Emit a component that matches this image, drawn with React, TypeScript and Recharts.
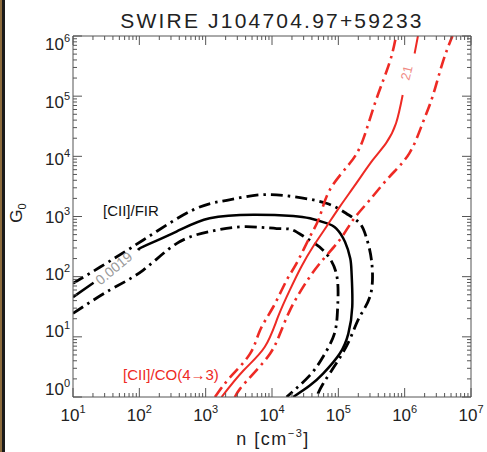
import { LineChart, Line, XAxis, YAxis } from 'recharts';

// all values are log10: [log n, log G0]
const decadesN = [1, 2, 3, 4, 5, 6, 7];
const decadesG = [0, 1, 2, 3, 4, 5, 6];
const minorSteps = [2, 3, 4, 5, 6, 7, 8, 9];

// null = gap left in the contour for its label
const firSolid = [
    [1.0, 1.66], [1.31, 1.9], null, [2.01, 2.46], [2.06, 2.5], [2.56, 2.75], [3.06, 2.97], [3.72, 3.03],
    [4.32, 3.01], [4.57, 2.97], [4.82, 2.89], [4.97, 2.8], [5.1, 2.58], [5.18, 2.3],
    [5.2, 2.05], [5.21, 1.5], [5.15, 1.05], [5.02, 0.72], [4.77, 0.39], [4.57, 0.19], [4.32, 0],
];
const firUpper = [
    [1.0, 1.89], [1.41, 2.16], [2.06, 2.61], [2.81, 3.11], [3.32, 3.27], [3.82, 3.36],
    [4.32, 3.33], [4.82, 3.22], [5.12, 3.05], [5.32, 2.89], [5.42, 2.66], [5.5, 2.27],
    [5.49, 1.72], [5.32, 1.33], [5.17, 0.95], [4.97, 0.56], [4.77, 0.22], [4.67, 0],
];
const firLower = [
    [1.0, 1.39], [1.56, 1.78], [2.06, 2.11], [2.56, 2.55], [3.06, 2.75], [3.57, 2.83],
    [4.07, 2.8], [4.3, 2.78], [4.52, 2.64], [4.77, 2.44], [4.97, 2.05], [4.99, 1.5],
    [4.94, 1.05], [4.77, 0.67], [4.57, 0.36], [4.22, 0],
];
const coSolid = [
    [3.24, 0], [3.57, 0.44], [3.89, 0.83], [4.09, 1.33], [4.27, 1.78], [4.44, 2.16],
    [4.62, 2.5], [4.82, 2.83], [5.02, 3.16], [5.27, 3.55], [5.52, 3.94], [5.72, 4.22],
    [5.87, 4.55], [5.97, 5.02], null, [6.15, 5.71], [6.2, 6.0],
];
const coUpper = [
    [3.14, 0], [3.37, 0.33], [3.67, 0.72], [3.82, 1.11], [4.02, 1.5], [4.22, 1.94],
    [4.37, 2.22], [4.57, 2.66], [4.72, 3.0], [4.87, 3.44], [5.17, 3.88], [5.37, 4.27],
    [5.57, 4.94], [5.77, 5.55], [5.87, 6.0],
];
const coLower = [
    [3.44, 0], [3.52, 0.14], [3.72, 0.39], [3.97, 0.72], [4.12, 1.05], [4.27, 1.44],
    [4.47, 1.83], [4.72, 2.22], [5.02, 2.61], [5.22, 2.94], [5.47, 3.27], [5.77, 3.66],
    [6.07, 4.05], [6.27, 4.55], [6.42, 4.99], [6.57, 5.55], [6.72, 6.0],
];

const toRows = (pts: (number[] | null)[]) =>
    pts.map((p, i) => (p ? { n: p[0], g: p[1] } : { n: (pts[i - 1] as number[])[0], g: null }));

const withMinors = (decades: number[]) => {
    const out: number[] = [];
    decades.forEach((d, i) => {
        out.push(d);
        if (i < decades.length - 1) minorSteps.forEach(m => out.push(d + Math.log10(m)));
    });
    return out;
};
const xTicks = withMinors(decadesN);
const yTicks = withMinors(decadesG);

const FONT = "'Liberation Sans', Arial, Helvetica, sans-serif";
const AXIS = '#555';
const RED = '#ee2a24';
const DASHDOT = '12 5 2.5 5';

const isMajor = (v: number) => Math.abs(v - Math.round(v)) < 1e-6;

const BottomTick = ({ x, y, payload }: any) => {
    const major = isMajor(payload.value);
    return (
        <g>
            <line x1={x} y1={y} x2={x} y2={y - (major ? 9 : 4)} stroke={AXIS} />
            {major && (
                <text x={x} y={y + 24} textAnchor="middle" fontSize={17} fill="#222" fontFamily={FONT}>
                    10<tspan dy={-8} fontSize={11}>{Math.round(payload.value)}</tspan>
                </text>
            )}
        </g>
    );
};

const TopTick = ({ x, y, payload }: any) => {
    const major = isMajor(payload.value);
    return <line x1={x} y1={y} x2={x} y2={y + (major ? 9 : 4)} stroke={AXIS} />;
};

const LeftTick = ({ x, y, payload }: any) => {
    const major = isMajor(payload.value);
    const k = Math.round(payload.value);
    const cy = y + (k - 3) * 2.7;
    return (
        <g>
            <line x1={x} y1={y} x2={x + (major ? 9 : 4)} y2={y} stroke={AXIS} />
            {major && (
                <text x={x - 3} y={cy + 6} textAnchor="end" fontSize={17} fill="#222" fontFamily={FONT}>
                    10<tspan dy={-8} fontSize={11}>{k}</tspan>
                </text>
            )}
        </g>
    );
};

const RightTick = ({ x, y, payload }: any) => {
    const major = isMajor(payload.value);
    return <line x1={x} y1={y} x2={x - (major ? 9 : 4)} y2={y} stroke={AXIS} />;
};

export default function App() {
    const series = [
        { key: 'firSolid', data: toRows(firSolid), color: '#000', width: 2.5, dash: undefined },
        { key: 'firUpper', data: toRows(firUpper), color: '#000', width: 2.8, dash: DASHDOT },
        { key: 'firLower', data: toRows(firLower), color: '#000', width: 2.8, dash: DASHDOT },
        { key: 'coSolid', data: toRows(coSolid), color: RED, width: 2, dash: undefined },
        { key: 'coUpper', data: toRows(coUpper), color: RED, width: 2.6, dash: DASHDOT },
        { key: 'coLower', data: toRows(coLower), color: RED, width: 2.6, dash: DASHDOT },
    ];

    return (
        <div style={{ position: 'relative', width: 487, height: 452, background: '#fff', overflow: 'hidden' }}>
            <style>{`body { margin: 0; }`}</style>
            <LineChart width={487} height={452} margin={{ top: 26, right: 6, bottom: 5, left: 13 }}>
                <XAxis
                    dataKey="n"
                    type="number"
                    domain={[1, 7]}
                    allowDataOverflow
                    ticks={xTicks}
                    interval={0}
                    height={50}
                    tickSize={0}
                    tickMargin={0}
                    tickLine={false}
                    axisLine={{ stroke: AXIS }}
                    tick={<BottomTick />}
                />
                <XAxis
                    xAxisId="top"
                    orientation="top"
                    dataKey="n"
                    type="number"
                    domain={[1, 7]}
                    allowDataOverflow
                    ticks={xTicks}
                    interval={0}
                    height={10}
                    tickSize={0}
                    tickMargin={0}
                    tickLine={false}
                    axisLine={{ stroke: AXIS }}
                    tick={<TopTick />}
                />
                <YAxis
                    type="number"
                    domain={[0, 6]}
                    allowDataOverflow
                    ticks={yTicks}
                    interval={0}
                    width={60}
                    tickSize={0}
                    tickMargin={0}
                    tickLine={false}
                    axisLine={{ stroke: AXIS }}
                    tick={<LeftTick />}
                />
                <YAxis
                    yAxisId="right"
                    orientation="right"
                    type="number"
                    domain={[0, 6]}
                    allowDataOverflow
                    ticks={yTicks}
                    interval={0}
                    width={10}
                    tickSize={0}
                    tickMargin={0}
                    tickLine={false}
                    axisLine={{ stroke: AXIS }}
                    tick={<RightTick />}
                />
                {series.map(s => (
                    <Line
                        key={s.key}
                        data={s.data}
                        dataKey="g"
                        type="natural"
                        stroke={s.color}
                        strokeWidth={s.width}
                        strokeDasharray={s.dash}
                        dot={false}
                        activeDot={false}
                        isAnimationActive={false}
                    />
                ))}
            </LineChart>

            <svg width={487} height={452} style={{ position: 'absolute', left: 0, top: 0, pointerEvents: 'none' }}>
                <rect x={0} y={0} width={2} height={452} fill="#8c6b3c" />
                <rect x={2} y={0} width={3} height={452} fill="#1a1a1a" />
                <text x={272} y={28} textAnchor="middle" fontSize={21} letterSpacing={2.2} fill="#222" fontFamily={FONT}>
                    SWIRE J104704.97+59233
                </text>
                <text x={273} y={445} textAnchor="middle" fontSize={18} letterSpacing={1.5} fill="#222" fontFamily={FONT}>
                    n [cm<tspan dy={-8} fontSize={11}>−3</tspan><tspan dy={8}>]</tspan>
                </text>
                <text transform="translate(22,213) rotate(-90)" textAnchor="middle" fontSize={17} fill="#222" fontFamily={FONT}>
                    G<tspan dy={4} fontSize={11}>0</tspan>
                </text>
                <text x={103} y={216} fontSize={15} fill="#111" fontFamily={FONT}>[CII]/FIR</text>
                <text x={123} y={380} fontSize={15} fill={RED} fontFamily={FONT}>[CII]/CO(4→3)</text>
                <text transform="translate(117,272) rotate(-40)" textAnchor="middle" fontSize={14} fill="#999" fontFamily={FONT}>
                    0.0019
                </text>
                <text transform="translate(411,74) rotate(-76)" textAnchor="middle" fontSize={13} fill="#f08a84" fontFamily={FONT}>
                    21
                </text>
            </svg>
        </div>
    );
}
